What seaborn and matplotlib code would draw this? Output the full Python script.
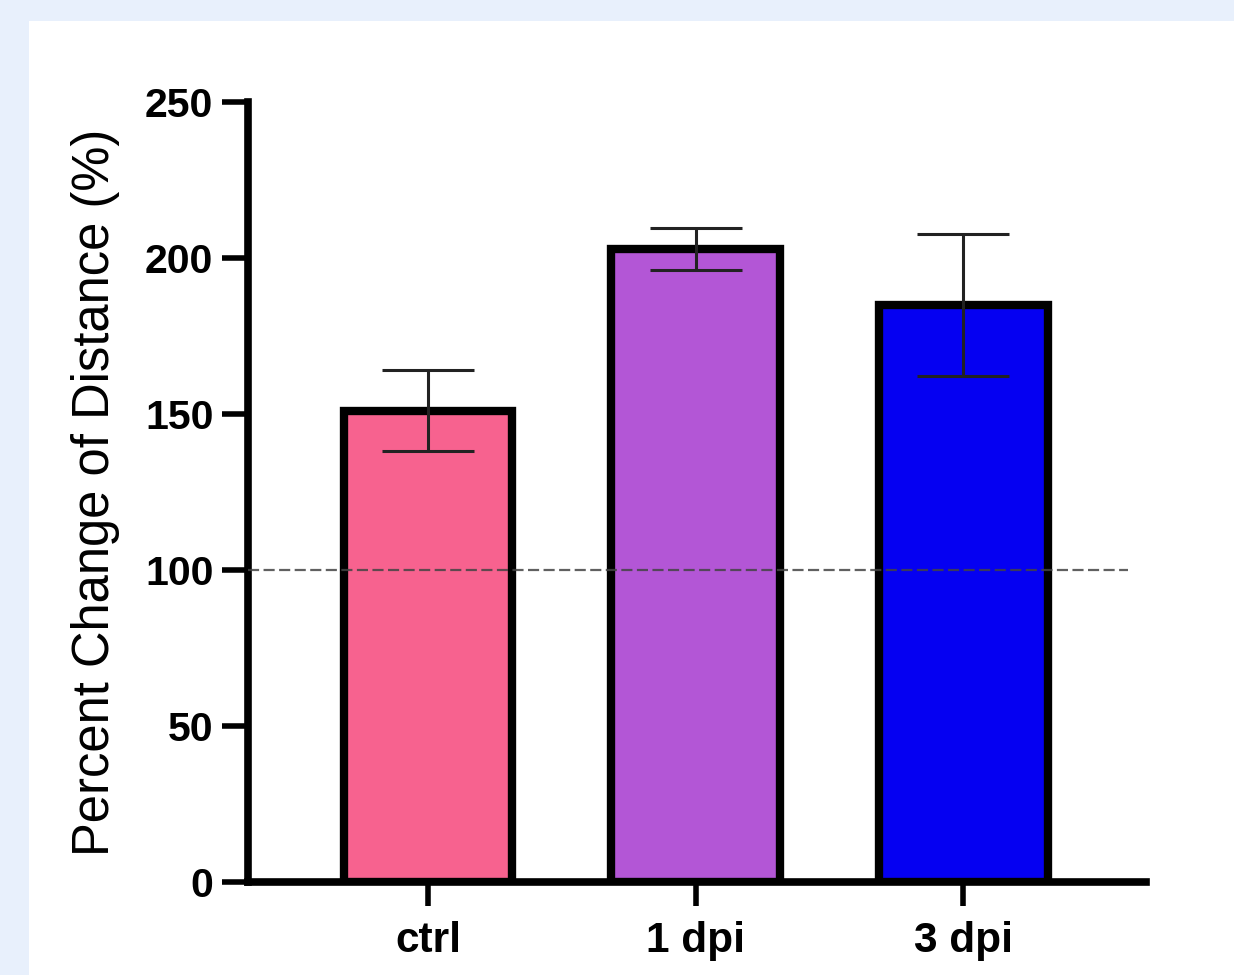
import matplotlib
matplotlib.use("Agg")
import matplotlib.pyplot as plt
from matplotlib.patches import Rectangle
import seaborn as sns

groups = ["ctrl", "1 dpi", "3 dpi"]
means = [151, 203, 185]
sds = [13, 6.7, 22.7]
colors = ["#F7628F", "#B356D6", "#0500F2"]
yticks = [0, 50, 100, 150, 200, 250]
baseline = 100

sns.set_style("ticks")
plt.rcParams["font.family"] = ["Liberation Sans", "DejaVu Sans"]
plt.rcParams["text.color"] = "black"
plt.rcParams["axes.labelcolor"] = "black"
plt.rcParams["xtick.color"] = "black"
plt.rcParams["ytick.color"] = "black"

fig = plt.figure(figsize=(12.34, 9.75), dpi=100)
fig.patch.set_facecolor("#E8F0FC")
# white panel behind the chart
fig.add_artist(Rectangle((29 / 1234, 0), 1, (975 - 21) / 975, transform=fig.transFigure,
                         facecolor="white", edgecolor="none", zorder=-10))

ax = fig.add_axes([0.201, 0.0954, 0.728, 0.800])
ax.set_facecolor("none")

sns.barplot(x=groups, y=means, hue=groups, palette=colors, legend=False, errorbar=None,
            saturation=1, width=0.63, edgecolor="black", linewidth=6, ax=ax, zorder=2)
ax.errorbar(x=range(len(groups)), y=means, yerr=sds, fmt="none", ecolor="#222222",
            elinewidth=2.2, capsize=33, capthick=2.2, zorder=3)
ax.axhline(baseline, xmin=0, xmax=0.979, color="#444444", lw=1.6, dashes=(5, 2), alpha=0.85, zorder=4)

ax.set_xlim(-0.673, 2.684)
ax.set_ylim(0, 250)
ax.set_yticks(yticks)
ax.set_xlabel("")
ax.set_ylabel("Percent Change of Distance (%)", fontsize=36.5, labelpad=18)

sns.despine(ax=ax)
for side in ["left", "bottom"]:
    ax.spines[side].set_linewidth(5.5)
    ax.spines[side].set_color("black")
ax.tick_params(axis="y", length=19, width=4, pad=6, labelsize=29.5, colors="black")
ax.tick_params(axis="x", length=17, width=4, pad=11, labelsize=30.5, colors="black")
for lab in ax.get_xticklabels() + ax.get_yticklabels():
    lab.set_fontweight("bold")

fig.savefig("out.png", dpi=100, facecolor=fig.get_facecolor())
